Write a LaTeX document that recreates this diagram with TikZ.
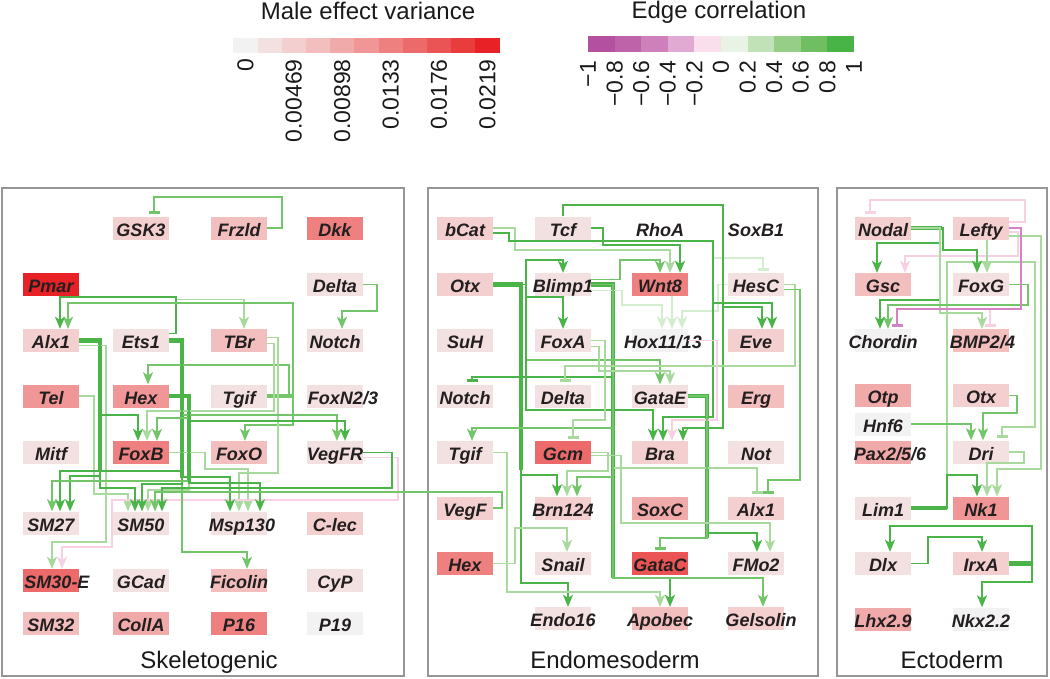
\documentclass[tikz,border=0pt]{standalone}
\usepackage{fontspec}
\setmainfont{Liberation Sans}
\usetikzlibrary{arrows.meta,calc}
\definecolor{r0}{RGB}{243,242,242}
\definecolor{r1}{RGB}{243,224,224}
\definecolor{r2}{RGB}{243,207,207}
\definecolor{r3}{RGB}{242,190,190}
\definecolor{r4}{RGB}{241,170,170}
\definecolor{r5}{RGB}{240,150,150}
\definecolor{r6}{RGB}{238,128,128}
\definecolor{r7}{RGB}{236,106,106}
\definecolor{r8}{RGB}{234,84,84}
\definecolor{r9}{RGB}{233,60,60}
\definecolor{r10}{RGB}{231,33,38}
\definecolor{m1}{RGB}{180,80,160}
\definecolor{m2}{RGB}{190,98,170}
\definecolor{m3}{RGB}{205,128,185}
\definecolor{m4}{RGB}{225,170,210}
\definecolor{m5}{RGB}{249,222,235}
\definecolor{m6}{RGB}{232,243,230}
\definecolor{m7}{RGB}{192,226,182}
\definecolor{m8}{RGB}{150,206,136}
\definecolor{m9}{RGB}{112,190,98}
\definecolor{m10}{RGB}{72,180,72}
\definecolor{Ga}{RGB}{75,180,72}
\definecolor{Gb}{RGB}{115,197,105}
\definecolor{Gc}{RGB}{168,218,158}
\definecolor{Gd}{RGB}{212,236,207}
\definecolor{Pa}{RGB}{247,208,228}
\definecolor{Pb}{RGB}{212,130,195}
\definecolor{gtext}{RGB}{35,31,32}
\definecolor{panelgray}{RGB}{150,150,150}
\newcommand{\gt}[1]{\makebox[0pt]{#1}}
\newcommand{\gs}[2]{\makebox[0pt]{\hspace{#1}#2}}
\begin{document}
\begin{tikzpicture}[x=1pt,y=-1pt,
  gene/.style={minimum width=56pt,minimum height=23pt,inner sep=0pt,text height=16pt,text depth=0pt,font=\fontsize{18}{18}\selectfont\bfseries\itshape,text=gtext},
  ln/.style={line width=1.6pt},
  tk/.style={line width=4.5pt},
  act/.style={-{Stealth[length=12pt,width=10pt,inset=3pt]}},
  inh/.style={-{Bar[width=11pt,line width=3pt]}},
  tick/.style={rotate=90,anchor=east,inner sep=0pt,font=\fontsize{23}{23}\selectfont,text=black!90},
  panel/.style={draw=panelgray,line width=1.2pt},
  ptitle/.style={anchor=base,inner sep=0pt,font=\fontsize{24}{24}\selectfont,text=black!90}]
\useasboundingbox (0,0) rectangle (1050,678);

% ---------- legends ----------
\node[ptitle] (t1) at (368,19) {Male effect variance};
\node[ptitle] (t2) at (719,18) {Edge correlation};
\foreach \c [count=\i from 0] in {r0,r1,r2,r3,r4,r5,r6,r7,r8,r9,r10}
  \fill[\c] ({233.3+24.2*\i},38) rectangle ++(24.2,15);
\foreach \v [count=\i from 0] in {0,0.00469,0.00898,0.0133,0.0176,0.0219}
  \node[tick] (lv\i) at ({245.4+48.4*\i},59) {\v};
\foreach \c [count=\i from 0] in {m1,m2,m3,m4,m5,m6,m7,m8,m9,m10}
  \fill[\c] ({588+26.6*\i},36) rectangle ++(26.6,16);
\foreach \v [count=\i from 0] in {−1,−0.8,−0.6,−0.4,−0.2,0,0.2,0.4,0.6,0.8,1}
  \node[tick] (lc\i) at ({588+26.6*\i},61) {\v};

% ---------- panels ----------
\draw[panel] (2,188) rectangle (404,676);
\draw[panel] (428,188) rectangle (818,676);
\draw[panel] (837,188) rectangle (1047,676);
\node[ptitle] (p1) at (209,668) {Skeletogenic};
\node[ptitle] (p2) at (615,668) {Endomesoderm};
\node[ptitle] (p3) at (952,668) {Ectoderm};

% ---------- skeletogenic nodes ----------
\node[gene,fill=r2] (sGSK3) at (141,228) {\gt{GSK3}};
\node[gene,fill=r3] (sFrzld) at (239,228) {\gt{Frzld}};
\node[gene,fill=r6] (sDkk) at (335,228) {\gt{Dkk}};
\node[gene,fill=r10] (sPmar) at (51,284.5) {\gt{Pmar}};
\node[gene,fill=r1] (sDelta) at (335,284.5) {\gt{Delta}};
\node[gene,fill=r2] (sAlx1) at (51,340.5) {\gt{Alx1}};
\node[gene,fill=r1] (sEts1) at (141,340.5) {\gt{Ets1}};
\node[gene,fill=r3] (sTBr) at (239,340.5) {\gt{TBr}};
\node[gene,fill=r1] (sNotch) at (335,340.5) {\gt{Notch}};
\node[gene,fill=r5] (sTel) at (51,396) {\gt{Tel}};
\node[gene,fill=r5] (sHex) at (141,396) {\gt{Hex}};
\node[gene,fill=r1] (sTgif) at (239,396) {\gt{Tgif}};
\node[gene,fill=r1] (sFoxN) at (335,396) {\gs{16pt}{FoxN2/3}};
\node[gene,fill=r1] (sMitf) at (51,452.5) {\gt{Mitf}};
\node[gene,fill=r6] (sFoxB) at (141,452.5) {\gt{FoxB}};
\node[gene,fill=r3] (sFoxO) at (239,452.5) {\gt{FoxO}};
\node[gene,fill=r1] (sVegFR) at (335,452.5) {\gt{VegFR}};
\node[gene,fill=r1] (sSM27) at (51,523) {\gt{SM27}};
\node[gene,fill=r1] (sSM50) at (141,523) {\gt{SM50}};
\node[gene,fill=r1] (sMsp) at (239,523) {\gs{6pt}{Msp130}};
\node[gene,fill=r2] (sClec) at (335,523) {\gt{C-lec}};
\node[gene,fill=r7] (sSM30) at (51,580.5) {\gs{12pt}{SM30-E}};
\node[gene,fill=r1] (sGCad) at (141,580.5) {\gt{GCad}};
\node[gene,fill=r3] (sFic) at (239,580.5) {\gt{Ficolin}};
\node[gene,fill=r1] (sCyP) at (335,580.5) {\gt{CyP}};
\node[gene,fill=r3] (sSM32) at (51,623) {\gt{SM32}};
\node[gene,fill=r4] (sCollA) at (141,623) {\gt{CollA}};
\node[gene,fill=r6] (sP16) at (239,623) {\gt{P16}};
\node[gene,fill=r0] (sP19) at (335,623) {\gt{P19}};

% ---------- endomesoderm nodes ----------
\node[gene,fill=r2] (eBcat) at (465,228) {\gt{bCat}};
\node[gene,fill=r1] (eTcf) at (563,228) {\gt{Tcf}};
\node[gene,fill=white] (eRhoA) at (660,228) {\gt{RhoA}};
\node[gene,fill=white] (eSoxB1) at (756,228) {\gt{SoxB1}};
\node[gene,fill=r2] (eOtx) at (465,284.5) {\gt{Otx}};
\node[gene,fill=r1] (eBlimp) at (563,284.5) {\gt{Blimp1}};
\node[gene,fill=r6] (eWnt8) at (660,284.5) {\gt{Wnt8}};
\node[gene,fill=r1] (eHesC) at (756,284.5) {\gt{HesC}};
\node[gene,fill=r1] (eSuH) at (465,340.5) {\gt{SuH}};
\node[gene,fill=r1] (eFoxA) at (563,340.5) {\gt{FoxA}};
\node[gene,fill=r0] (eHox) at (660,340.5) {\gs{6pt}{Hox11/13}};
\node[gene,fill=r2] (eEve) at (756,340.5) {\gt{Eve}};
\node[gene,fill=r1] (eNotch) at (465,396) {\gt{Notch}};
\node[gene,fill=r1] (eDelta) at (563,396) {\gt{Delta}};
\node[gene,fill=r1] (eGataE) at (660,396) {\gt{GataE}};
\node[gene,fill=r3] (eErg) at (756,396) {\gt{Erg}};
\node[gene,fill=r1] (eTgif) at (465,452.5) {\gt{Tgif}};
\node[gene,fill=r7] (eGcm) at (563,452.5) {\gt{Gcm}};
\node[gene,fill=r2] (eBra) at (660,452.5) {\gt{Bra}};
\node[gene,fill=r1] (eNot) at (756,452.5) {\gt{Not}};
\node[gene,fill=r2] (eVegF) at (465,508) {\gt{VegF}};
\node[gene,fill=r2] (eBrn) at (563,508) {\gt{Brn124}};
\node[gene,fill=r4] (eSoxC) at (660,508) {\gt{SoxC}};
\node[gene,fill=r2] (eAlx1) at (756,508) {\gt{Alx1}};
\node[gene,fill=r6] (eHex) at (465,563.5) {\gt{Hex}};
\node[gene,fill=r1] (eSnail) at (563,563.5) {\gt{Snail}};
\node[gene,fill=r8] (eGataC) at (660,563.5) {\gt{GataC}};
\node[gene,fill=r1] (eFMo2) at (756,563.5) {\gt{FMo2}};
\node[gene,fill=r1] (eEndo) at (563,618.5) {\gt{Endo16}};
\node[gene,fill=r3] (eApobec) at (660,618.5) {\gt{Apobec}};
\node[gene,fill=r2] (eGel) at (756,618.5) {\gs{10pt}{Gelsolin}};

% ---------- ectoderm nodes ----------
\node[gene,fill=r2] (cNodal) at (883,228) {\gt{Nodal}};
\node[gene,fill=r2] (cLefty) at (981,228) {\gt{Lefty}};
\node[gene,fill=r3] (cGsc) at (883,284.5) {\gt{Gsc}};
\node[gene,fill=r1] (cFoxG) at (981,284.5) {\gt{FoxG}};
\node[gene,fill=r0] (cChordin) at (883,340.5) {\gt{Chordin}};
\node[gene,fill=r3] (cBMP) at (981,340.5) {\gs{3pt}{BMP2/4}};
\node[gene,fill=r4] (cOtp) at (883,395.5) {\gt{Otp}};
\node[gene,fill=r2] (cOtx) at (981,395.5) {\gt{Otx}};
\node[gene,fill=r0] (cHnf6) at (883,424) {\gt{Hnf6}};
\node[gene,fill=r4] (cPax) at (883,452) {\gs{14pt}{Pax2/5/6}};
\node[gene,fill=r1] (cDri) at (981,452) {\gt{Dri}};
\node[gene,fill=r1] (cLim1) at (883,508) {\gt{Lim1}};
\node[gene,fill=r5] (cNk1) at (981,508) {\gt{Nk1}};
\node[gene,fill=r1] (cDlx) at (883,563.5) {\gt{Dlx}};
\node[gene,fill=r2] (cIrxA) at (981,563.5) {\gt{IrxA}};
\node[gene,fill=r4] (cLhx) at (883,619) {\gt{Lhx2.9}};
\node[gene,fill=r0] (cNkx) at (981,619) {\gt{Nkx2.2}};

% ---------- skeletogenic edges ----------
\draw[tk,Ga] (sAlx1.east) -- (100,340.5) -- (100,470);
\draw[tk,Ga] (sEts1.east) -- (182,340.5) -- (182,478);
\draw[tk,Ga] (sHex.east) -- (189,396) -- (189,482);
\draw[tk,Gb] (sTgif.east) -- (292,396);
\draw[ln,Gb,inh] (sFrzld.east) -- (282,228) -- (282,197) -- (154,197) -- ($(sGSK3.north)+(13,-2)$);
\draw[ln,Gb,act] (sDelta.east) -- (377,284.5) -- (377,311) -- (342,311) -- ($(sNotch.north)+(7,0)$);
\draw[ln,Gc,act] ($(sEts1.east)+(0,-7)$) -- (176,333.5) -- (176,299.5) -- (244,299.5) -- ($(sTBr.north)+(5,0)$);
\draw[ln,Ga,act] ($(sEts1.east)+(0,-7)$) -- (176,333.5) -- (176,297) -- (60,297) -- ($(sAlx1.north)+(9,0)$);
\draw[ln,Gb,act] (sTgif.east) -- (293,396) -- (293,303) -- (68,303) -- ($(sAlx1.north)+(17,0)$);
\draw[ln,Gb,act] (sTgif.east) -- (293,396) -- (293,425) -- (245,425) -- ($(sFoxO.north)+(6,0)$);
\draw[ln,Gb,act] (sTgif.east) -- (289,396) -- (289,365) -- (148,365) -- ($(sHex.north)+(7,0)$);
\draw[ln,Gc,act] ($(sTBr.east)+(0,-3)$) -- (278,337.5) -- (278,473) -- (239,473) -- (sMsp.north);
\draw[ln,Gc,act] ($(sTBr.east)+(0,3)$) -- (274,343.5) -- (274,411) -- (147,411) -- ($(sFoxB.north)+(6,0)$);
\draw[ln,Gc,act] ($(sAlx1.east)+(0,5)$) -- (106,345.5) -- (106,542) -- (52,542) -- ($(sSM30.north)+(1,0)$);
\draw[ln,Gc,act] (sTel.east) -- (94,396) -- (94,494) -- (128,494) -- ($(sSM50.north)+(-13,0)$);
\draw[ln,Gc,act] (sFoxB.east) -- (205,452.5) -- (205,469) -- (248,469) -- ($(sMsp.north)+(9,0)$);
\draw[ln,Gc,act] (sHex.east) -- (189,396) -- (189,490) -- (148,490) -- ($(sSM50.north)+(7,0)$);
\draw[ln,Pa,act] ($(sVegFR.east)+(0,5)$) -- (398,457.5) -- (398,500) -- (112,500) -- (112,547) -- (62,547) -- ($(sSM30.north)+(11,0)$);
\draw[ln,Ga,act] (sAlx1.east) -- (100,340.5) -- (100,415) -- (138,415) -- ($(sFoxB.north)+(-3,0)$);
\draw[ln,Ga,act] (sAlx1.east) -- (100,340.5) -- (100,476) -- (70,476) -- ($(sSM27.north)+(19,0)$);
\draw[ln,Ga,act] (sAlx1.east) -- (100,340.5) -- (100,488) -- (135,488) -- ($(sSM50.north)+(-6,0)$);
\draw[ln,Gb,act] (sEts1.east) -- (182,340.5) -- (182,552) -- (247,552) -- ($(sFic.north)+(8,0)$);
\draw[ln,Gb,act] (sEts1.east) -- (182,340.5) -- (182,415) -- (337,415) -- ($(sVegFR.north)+(2,0)$);
\draw[ln,Ga,act] (sEts1.east) -- (182,340.5) -- (182,471) -- (60,471) -- ($(sSM27.north)+(9,0)$);
\draw[ln,Ga,act] (sEts1.east) -- (182,340.5) -- (182,484) -- (142,484) -- ($(sSM50.north)+(1,0)$);
\draw[ln,Ga,act] (sEts1.east) -- (182,340.5) -- (182,477) -- (230,477) -- ($(sMsp.north)+(-9,0)$);
\draw[ln,Gb,act] (sHex.east) -- (189,396) -- (189,418) -- (157,418) -- ($(sFoxB.north)+(16,0)$);
\draw[ln,Ga,act] (sHex.east) -- (189,396) -- (189,421) -- (345,421) -- ($(sVegFR.north)+(10,0)$);
\draw[ln,Gb,act] (sHex.east) -- (189,396) -- (189,481) -- (52,481) -- ($(sSM27.north)+(1,0)$);
\draw[ln,Ga,act] (sHex.east) -- (189,396) -- (189,483) -- (260,483) -- ($(sMsp.north)+(21,0)$);
\draw[ln,Ga,act] (sVegFR.east) -- (392,452.5) -- (392,488) -- (162,488) -- ($(sSM50.north)+(21,0)$);
\draw[ln,Gb,act] (eVegF.east) -- (502,508) -- (502,492) -- (155,492) -- ($(sSM50.north)+(14,0)$);

% ---------- endomesoderm edges ----------
\draw[tk,Ga] (eOtx.east) -- (521,284.5) -- (521,470);
\draw[tk,Ga] (eBlimp.east) -- (613,284.5) -- (613,578);
\draw[tk,Ga] (eGataE.east) -- (707,396) -- (707,538);
\draw[ln,Gd,inh] ($(eBcat.east)+(0,5)$) -- (509,233) -- (509,241) -- (713,241) -- (713,258) -- (763,258) -- ($(eHesC.north)+(7,-2)$);
\draw[ln,Gd,act] ($(eBlimp.east)+(0,6)$) -- (622,290.5) -- (622,305) -- (662,305) -- ($(eHox.north)+(2,0)$);
\draw[ln,Gd,act] ($(eWnt8.south)+(12,0)$) -- ($(eHox.north)+(12,0)$);
\draw[ln,Gd,act] (eHesC.west) -- (718,284.5) -- (718,311) -- (682,311) -- ($(eHox.north)+(22,0)$);
\draw[ln,Gc,act] (eBcat.east) -- (515,228) -- (515,250) -- (670,250) -- ($(eWnt8.north)+(10,0)$);
\draw[ln,Ga,act] ($(eBcat.east)+(0,5)$) -- (509,233) -- (509,241) -- (713,241) -- (713,303) -- (772,303) -- ($(eEve.north)+(16,0)$);
\draw[ln,Ga,act] ($(eBcat.east)+(0,5)$) -- (509,233) -- (509,241) -- (713,241) -- (713,417) -- (663,417) -- ($(eBra.north)+(3,0)$);
\draw[ln,Ga,act] (eTcf.east) -- (603,228) -- (603,245) -- (680,245) -- ($(eWnt8.north)+(20,0)$);
\draw[ln,Ga,act] (eTcf.north) -- (563,205) -- (723,205) -- (723,307) -- (762,307) -- ($(eEve.north)+(6,0)$);
\draw[ln,Ga,act] (eTcf.north) -- (563,205) -- (723,205) -- (723,428) -- (683,428) -- ($(eBra.north)+(23,0)$);
\draw[ln,Ga,act] (eOtx.east) -- (526,284.5) -- (526,260) -- (563,260) -- (eBlimp.north);
\draw[ln,Ga,act] (eOtx.east) -- (526,284.5) -- (526,297) -- (563,297) -- (eFoxA.north);
\draw[ln,Gb,act] (eOtx.east) -- (526,284.5) -- (526,360) -- (660,360) -- (eGataE.north);
\draw[ln,Ga,act] (eOtx.east) -- (526,284.5) -- (526,410) -- (653,410) -- ($(eBra.north)+(-7,0)$);
\draw[ln,Ga,act] (eOtx.east) -- (521,284.5) -- (521,475) -- (557,475) -- ($(eBrn.north)+(-6,0)$);
\draw[ln,Ga,act] (eOtx.east) -- (521,284.5) -- (521,583) -- (568,583) -- ($(eEndo.north)+(5,0)$);
\draw[ln,Gb,act] ($(eBlimp.east)+(0,-5)$) -- (620,279.5) -- (620,260) -- (660,260) -- (eWnt8.north);
\draw[ln,Ga,inh] (eBlimp.east) -- (613,284.5) -- (613,377) -- (472,377) -- ($(eNotch.north)+(7,-2)$);
\draw[ln,Gb,act] (eBlimp.east) -- (613,284.5) -- (613,428) -- (472,428) -- ($(eTgif.north)+(7,0)$);
\draw[ln,Gb,act] (eBlimp.east) -- (613,284.5) -- (613,477) -- (577,477) -- ($(eBrn.north)+(14,0)$);
\draw[ln,Gc,inh] (eBlimp.east) -- (613,284.5) -- (613,468) -- (757,468) -- ($(eAlx1.north)+(1,-2)$);
\draw[ln,Ga,act] (eBlimp.east) -- (613,284.5) -- (613,578) -- (670,578) -- ($(eApobec.north)+(10,0)$);
\draw[ln,Gb,act] (eBlimp.east) -- (613,284.5) -- (613,578) -- (763,578) -- ($(eGel.north)+(7,0)$);
\draw[ln,Gc,inh] (eHesC.east) -- (795,284.5) -- (795,366) -- (565,366) -- ($(eDelta.north)+(2,-2)$);
\draw[ln,Gb,inh] ($(eHesC.east)+(0,5)$) -- (800,289.5) -- (800,480) -- (768,480) -- ($(eAlx1.north)+(12,-2)$);
\draw[ln,Gc,inh] (eFoxA.east) -- (605,340.5) -- (605,420) -- (573,420) -- ($(eGcm.north)+(10,-2)$);
\draw[ln,Gc,act] ($(eFoxA.east)+(0,6)$) -- (599,346.5) -- (599,371) -- (670,371) -- ($(eGataE.north)+(10,0)$);
\draw[ln,Pa,act] (eHox.east) -- (717,340.5) -- (717,420) -- (672,420) -- ($(eBra.north)+(12,0)$);
\draw[ln,Ga,act] (eGataE.east) -- (707,396) -- (707,533) -- (757,533) -- ($(eFMo2.north)+(1,0)$);
\draw[ln,Gb,inh] (eGataE.east) -- (707,396) -- (707,538) -- (660,538) -- ($(eGataC.north)+(0,-2)$);
\draw[ln,Gc,act] (eGcm.east) -- (608,452.5) -- (608,471) -- (567,471) -- ($(eBrn.north)+(4,0)$);
\draw[ln,Gc,act] ($(eGcm.east)+(0,3)$) -- (621,455.5) -- (621,523) -- (770,523) -- ($(eFMo2.north)+(14,0)$);
\draw[ln,Gc,act] (eTgif.east) -- (507,452.5) -- (507,592) -- (660,592) -- (eApobec.north);
\draw[ln,Gc,act] (eHex.east) -- (515,563.5) -- (515,528) -- (567,528) -- ($(eSnail.north)+(4,0)$);

% ---------- ectoderm edges ----------
\draw[tk,Ga] (cNodal.east) -- (942,228);
\draw[tk,Ga] (cLim1.east) -- (947,508);
\draw[tk,Ga] (cIrxA.east) -- (1032,563.5);
\draw[ln,Pa,inh] ($(cLefty.east)+(0,-6)$) -- (1025,222) -- (1025,200) -- (870,200) -- ($(cNodal.north)+(-13,-2)$);
\draw[ln,Pa,act] ($(cLefty.east)+(0,4)$) -- (1018,232) -- (1018,256) -- (905,256) -- ($(cGsc.north)+(22,0)$);
\draw[ln,Gc,inh] (cLim1.east) -- (947,508) -- (947,262) -- (1035,262) -- (1035,427) -- (1002,427) -- ($(cDri.north)+(21,-2)$);
\draw[ln,Gc,act] ($(cLefty.east)+(0,8)$) -- (1041,236) -- (1041,469) -- (997,469) -- ($(cNk1.north)+(16,0)$);
\draw[ln,Ga,act] (cNodal.east) -- (940,228) -- (940,243) -- (877,243) -- ($(cGsc.north)+(-6,0)$);
\draw[ln,Ga,act] (cNodal.east) -- (943,228) -- (943,250) -- (977,250) -- ($(cFoxG.north)+(-4,0)$);
\draw[ln,Gc,act] ($(cLefty.south)+(6,0)$) -- ($(cFoxG.north)+(6,0)$);
\draw[ln,Ga,act] (cNodal.east) -- (940,228) -- (940,300) -- (880,300) -- ($(cChordin.north)+(-3,0)$);
\draw[ln,Gc,act] (cNodal.east) -- (940,228) -- (940,313) -- (982,313) -- ($(cBMP.north)+(1,0)$);
\draw[ln,Gb,act] (cFoxG.east) -- (1028,284.5) -- (1028,305) -- (888,305) -- ($(cChordin.north)+(5,0)$);
\draw[ln,Pa,inh] (cLefty.east) -- (1021,228) -- (1021,309) -- (990,309) -- ($(cBMP.north)+(9,-2)$);
\draw[ln,Pb,inh] (cLefty.east) -- (1021,228) -- (1021,309) -- (897,309) -- ($(cChordin.north)+(14,-2)$);
\draw[ln,Gb,act] (cOtx.east) -- (1017,395.5) -- (1017,413) -- (983,413) -- ($(cDri.north)+(2,0)$);
\draw[ln,Gb,act] (cHnf6.east) -| ($(cDri.north)+(-10,0)$);
\draw[ln,Gc,act] (cDri.east) -- (1024,452) -- (1024,463) -- (987,463) -- ($(cNk1.north)+(6,0)$);
\draw[ln,Ga,act] (cLim1.east) -- (947,508) -- (947,475) -- (977,475) -- ($(cNk1.north)+(-4,0)$);
\draw[ln,Ga,act] (cIrxA.east) -- (1032,563.5) -- (1032,526) -- (890,526) -- ($(cDlx.north)+(7,0)$);
\draw[ln,Ga,act] (cIrxA.east) -- (1032,563.5) -- (1032,582) -- (982,582) -- ($(cNkx.north)+(1,0)$);
\draw[ln,Ga,act] (cDlx.east) -- (928,563.5) -- (928,537) -- (982,537) -- ($(cIrxA.north)+(1,0)$);
\end{tikzpicture}
\end{document}
